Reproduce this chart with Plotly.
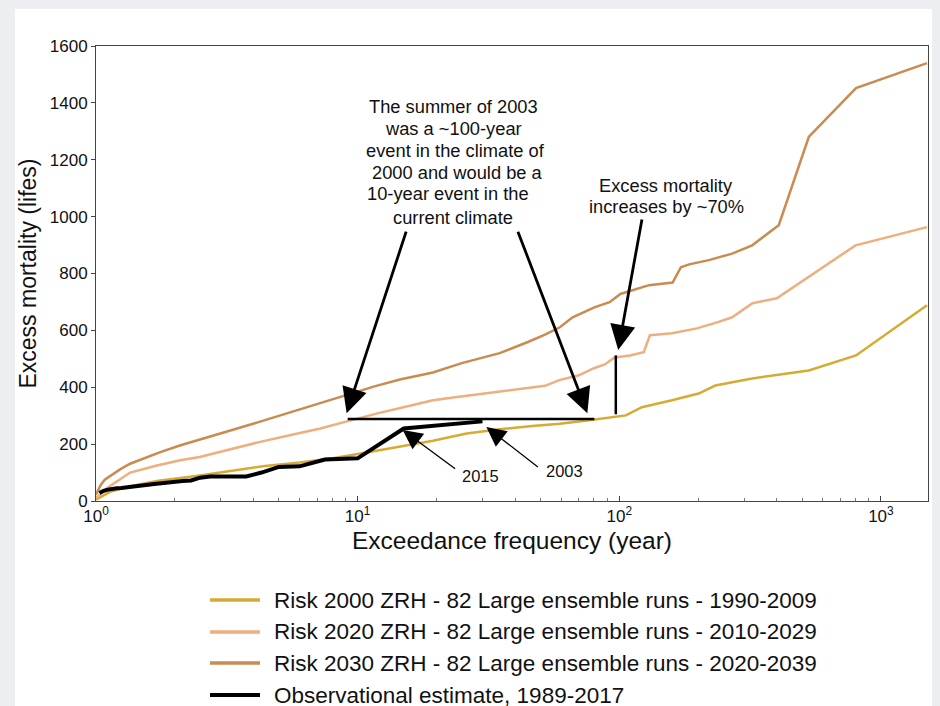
import math
import plotly.graph_objects as go

# Return periods (years) and excess mortality for each climate period
return_period_2000 = [1.0, 1.036, 1.13, 1.35, 1.71, 2.49, 3.54, 4.34, 6.0, 8.03, 11.1, 14.5, 19.4, 26.1,
                      34.9, 46.5, 59.3, 76.6, 90, 106, 122, 159, 201, 233, 322, 530, 803, 1500]
mortality_2000 = [5, 12, 32, 52, 70, 90, 110, 122, 135, 150, 172, 190, 212, 237,
                  252, 264, 272, 284, 292, 301, 330, 354, 378, 406, 431, 459, 512, 688]

return_period_2020 = [1.0, 1.04, 1.1, 1.24, 1.35, 1.71, 2.1, 2.49, 3.2, 4.2, 5.5, 7.2, 9.1, 12, 15.4,
                      19.4, 24, 30, 40, 52, 59, 70, 80, 88, 96, 110, 124, 131, 159, 198, 240, 270,
                      322, 400, 800, 1500]
mortality_2020 = [12, 22, 45, 78, 100, 125, 143, 155, 180, 207, 231, 255, 280, 309, 332,
                  354, 366, 378, 393, 405, 425, 442, 467, 480, 505, 512, 523, 583, 590, 607, 630, 646,
                  695, 713, 899, 963]

return_period_2030 = [1.0, 1.04, 1.08, 1.13, 1.24, 1.35, 1.54, 1.75, 2.09, 2.49, 3.1, 3.87, 4.82, 6.0,
                      7.5, 9.3, 11.6, 14.5, 19.4, 25, 34.9, 45, 52, 59.3, 66.3, 80.3, 91.8, 101, 115,
                      130, 160, 172, 185, 220, 270, 322, 407, 530, 803, 1500]
mortality_2030 = [22, 55, 75, 88, 112, 131, 152, 171, 195, 217, 242, 268, 295, 322,
                  350, 378, 403, 427, 452, 485, 520, 560, 585, 611, 646, 681, 699, 728, 745,
                  759, 768, 822, 832, 847, 870, 899, 970, 1280, 1452, 1540]

obs_return_period = [30.0, 15.0, 10.0, 7.5, 6.0, 5.0, 4.29, 3.75, 3.33, 3.0, 2.73, 2.5, 2.31, 2.14,
                     2.0, 1.88, 1.76, 1.67, 1.58, 1.5, 1.43, 1.36, 1.3, 1.25, 1.2, 1.15, 1.11, 1.07, 1.03]
obs_mortality = [280, 255, 150, 146, 122, 120, 100, 86, 86, 86, 86, 82, 72, 70,
                 68, 66, 62, 60, 57, 54, 52, 49, 47, 46, 45, 43, 40, 36, 28]

series_names = [
    "Risk 2000 ZRH - 82 Large ensemble runs - 1990-2009",
    "Risk 2020 ZRH - 82 Large ensemble runs - 2010-2029",
    "Risk 2030 ZRH - 82 Large ensemble runs - 2020-2039",
    "Observational estimate, 1989-2017",
]
series_colors = ["#d6aa33", "#eeae7e", "#c98b4f", "#000000"]
series_widths = [2.5, 2.5, 2.5, 4]

# Reference levels for the 2003 event
level_2003 = 288
level_x_range = [9.16, 80.3]
increase_x = 97
increase_range = [305, 512]

y_ticks = [0, 200, 400, 600, 800, 1000, 1200, 1400, 1600]
x_ticks = [1, 10, 100, 1000]
x_tick_text = ["10<sup>0</sup>", "10<sup>1</sup>", "10<sup>2</sup>", "10<sup>3</sup>"]
x_minor_ticks = [m * d for d in (1, 10, 100) for m in range(2, 10)] + [2000]

FONT = "Liberation Sans, Arial, sans-serif"
W, H = 940, 706
ML, MR, MT, MB = 96, 12, 46, 205
PW, PH = W - ML - MR, H - MT - MB


def px(x):
    return (x - ML) / PW


def py(y):
    return (H - MB - y) / PH


fig = go.Figure()

xs = [return_period_2000, return_period_2020, return_period_2030, obs_return_period]
ys = [mortality_2000, mortality_2020, mortality_2030, obs_mortality]
for name, xv, yv, c, w in zip(series_names, xs, ys, series_colors, series_widths):
    fig.add_trace(go.Scatter(x=xv, y=yv, mode="lines", name=name,
                             line=dict(color=c, width=w), showlegend=False))

# Horizontal 2003 level and vertical increase marker
fig.add_trace(go.Scatter(x=level_x_range, y=[level_2003, level_2003], mode="lines",
                         line=dict(color="black", width=2.5), showlegend=False, hoverinfo="skip"))
fig.add_trace(go.Scatter(x=[increase_x, increase_x], y=increase_range, mode="lines",
                         line=dict(color="black", width=2.5), showlegend=False, hoverinfo="skip"))

annotations = []

# Explanatory text block
text_lines = [
    ("The summer of 2003", 453, 107),
    ("was a ~100-year", 453, 128),
    ("event in the climate of", 455, 150),
    ("2000 and would be a", 457, 172),
    ("10-year event in the", 448, 194),
    ("current climate", 453, 217),
    ("Excess mortality", 666, 185),
    ("increases by ~70%", 666, 206),
]
for t, x, y in text_lines:
    annotations.append(dict(text=t, xref="paper", yref="paper", x=px(x), y=py(y),
                            xanchor="center", yanchor="middle", showarrow=False,
                            font=dict(family=FONT, size=18.3, color="#111")))

for t, x, y in [("2015", 480, 476), ("2003", 564, 471)]:
    annotations.append(dict(text=t, xref="paper", yref="paper", x=px(x), y=py(y),
                            xanchor="center", yanchor="middle", showarrow=False,
                            font=dict(family=FONT, size=16.5, color="#111")))

# Arrows: tip in data coordinates, tail as pixel offset
arrows = [
    (0.958, 309, 60, -183, 2.8, 1.8),
    (1.878, 309, -70, -183, 2.8, 1.8),
    (1.996, 531, 24, -132, 2.8, 1.8),
    (1.172, 250, 54, 40, 1.3, 3.0),
    (1.492, 260, 53, 41, 1.3, 3.0),
]
for x, y, ax, ay, w, s in arrows:
    annotations.append(dict(x=x, y=y, xref="x", yref="y", ax=ax, ay=ay, text="",
                            showarrow=True, arrowhead=2, arrowsize=s, arrowwidth=w,
                            arrowcolor="black", standoff=0))

# Legend drawn below the axes
shapes = [dict(type="rect", xref="paper", yref="paper", x0=px(15), x1=px(932), y0=py(706), y1=py(9),
               fillcolor="white", line=dict(width=0), layer="below")]
legend_rows = [600, 632, 663, 695]
for name, c, w, r in zip(series_names, series_colors, series_widths, legend_rows):
    shapes.append(dict(type="line", xref="paper", yref="paper", x0=px(210), x1=px(260),
                       y0=py(r), y1=py(r), line=dict(color=c, width=3.5 if w < 4 else 4)))
    annotations.append(dict(text=name, xref="paper", yref="paper", x=px(272), y=py(r),
                            xanchor="left", yanchor="middle", showarrow=False,
                            font=dict(family=FONT, size=22.5, color="#111")))

fig.update_layout(
    width=W, height=H,
    margin=dict(l=ML, r=MR, t=MT, b=MB),
    paper_bgcolor="#eceef1",
    plot_bgcolor="white",
    font=dict(family=FONT, color="#111"),
    shapes=shapes,
    annotations=annotations,
    showlegend=False,
)
fig.update_xaxes(
    type="log", range=[0, 3.18],
    tickvals=x_ticks, ticktext=x_tick_text,
    tickfont=dict(size=17), ticks="inside", ticklen=5, tickcolor="#444",
    minor=dict(tickmode="array", tickvals=x_minor_ticks, ticks="inside", ticklen=3,
               tickcolor="#777", showgrid=False),
    showline=True, linecolor="#444", linewidth=1, mirror=True,
    showgrid=False, zeroline=False,
    title=dict(text="Exceedance frequency (year)", font=dict(size=24.5), standoff=6),
)
fig.update_yaxes(
    range=[0, 1600], tickvals=y_ticks,
    tickfont=dict(size=17), ticks="outside", ticklen=4, tickcolor="#444",
    showline=True, linecolor="#444", linewidth=1, mirror=True,
    showgrid=False, zeroline=False,
    title=dict(text="Excess mortality (lifes)", font=dict(size=23), standoff=6),
)

fig.write_html("out.html")
